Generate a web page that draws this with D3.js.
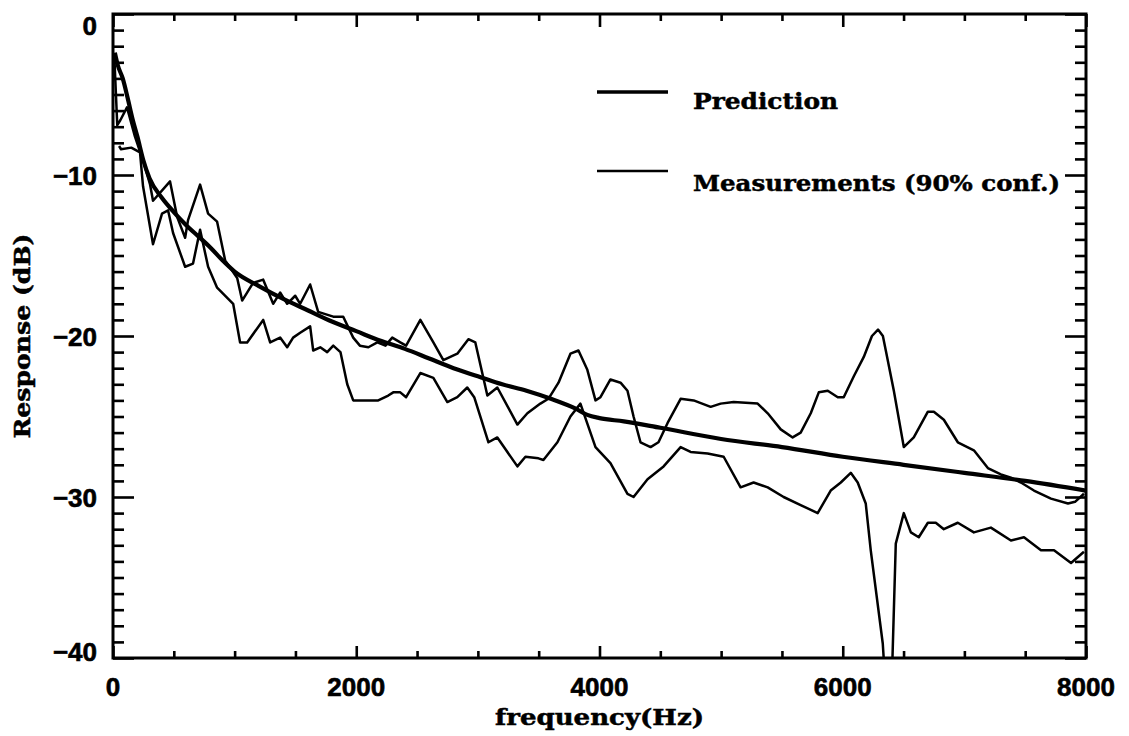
<!DOCTYPE html>
<html><head><meta charset="utf-8">
<script src="https://cdn.jsdelivr.net/npm/d3@7"></script>
<style>body{margin:0;background:#fff}</style>
</head><body><svg id="c" width="1129" height="736"></svg>
<script>
// ---------------- DATA ----------------
const predFreq = [15, 40, 80, 120, 160, 200, 250, 300, 400, 500, 600, 700, 800, 900, 1000, 1200, 1400, 1600, 1800, 2000, 2200, 2400, 2600, 2800, 3000, 3200, 3400, 3600, 3800, 3900, 4000, 4200, 4500, 5000, 5500, 6000, 6500, 7000, 7500, 8000];
const predResp = [-2.4, -3.2, -4.0, -5.2, -6.5, -7.6, -9.1, -10.2, -11.4, -12.3, -13.1, -13.8, -14.5, -15.3, -16.0, -16.9, -17.7, -18.4, -19.1, -19.7, -20.3, -20.8, -21.4, -22.0, -22.5, -23.0, -23.4, -23.9, -24.5, -24.9, -25.1, -25.3, -25.7, -26.4, -26.9, -27.5, -28.0, -28.5, -29.0, -29.6];

const upperFreq = [10, 35, 60, 115, 180, 247, 305, 329, 469, 527, 593, 617, 716, 782, 856, 922, 1021, 1062, 1152, 1235, 1317, 1374, 1432, 1498, 1539, 1621, 1687, 1811, 1893, 1975, 2030, 2100, 2173, 2240, 2296, 2362, 2410, 2527, 2634, 2716, 2831, 2922, 2979, 3078, 3160, 3325, 3407, 3514, 3580, 3663, 3761, 3827, 3900, 3967, 4008, 4090, 4173, 4230, 4280, 4337, 4420, 4485, 4560, 4667, 4774, 4914, 4996, 5103, 5300, 5383, 5490, 5588, 5654, 5737, 5803, 5877, 5959, 6008, 6091, 6173, 6240, 6290, 6330, 6354, 6420, 6502, 6584, 6700, 6749, 6831, 6946, 7078, 7193, 7300, 7383, 7465, 7572, 7712, 7852, 7910, 7983];
const upperResp = [-2.5, -6.9, -6.6, -5.8, -7.6, -9.1, -10.6, -11.6, -10.4, -12.6, -13.9, -12.8, -10.6, -12.4, -12.9, -15.3, -16.4, -17.8, -16.7, -16.5, -18.0, -17.3, -18.0, -17.5, -18.0, -16.8, -18.5, -18.8, -18.8, -20.1, -20.6, -20.7, -20.4, -20.6, -20.1, -20.4, -20.6, -19.0, -20.4, -21.5, -21.1, -20.2, -20.4, -23.7, -23.2, -25.5, -24.8, -24.2, -23.9, -22.9, -21.1, -20.9, -22.1, -24.0, -23.8, -22.7, -22.9, -23.4, -25.0, -26.6, -26.9, -26.6, -25.4, -23.9, -24.0, -24.4, -24.2, -24.1, -24.2, -24.8, -25.8, -26.3, -26.0, -24.8, -23.5, -23.4, -23.8, -23.8, -22.5, -21.3, -20.0, -19.6, -20.0, -20.9, -23.4, -26.9, -26.3, -24.7, -24.7, -25.2, -26.6, -27.1, -28.2, -28.6, -28.8, -29.1, -29.6, -30.1, -30.4, -30.3, -29.8];

const lowerFreq = [50, 66, 150, 222, 247, 329, 403, 453, 494, 593, 658, 716, 782, 856, 988, 1045, 1103, 1235, 1292, 1374, 1432, 1481, 1539, 1621, 1646, 1704, 1761, 1811, 1870, 1926, 1975, 2074, 2181, 2263, 2304, 2362, 2410, 2527, 2634, 2749, 2831, 2913, 2970, 3087, 3160, 3325, 3391, 3498, 3539, 3654, 3761, 3843, 3967, 4090, 4230, 4280, 4395, 4527, 4667, 4749, 4889, 5021, 5160, 5267, 5383, 5514, 5654, 5794, 5901, 5984, 6066, 6123, 6189, 6230, 6329, 6345, 6405, 6436, 6502, 6560, 6625, 6700, 6765, 6831, 6946, 7078, 7218, 7383, 7490, 7630, 7737, 7877, 7983];
const lowerResp = [-8.2, -8.4, -8.3, -8.6, -10.7, -14.3, -12.4, -12.2, -13.6, -15.7, -15.5, -13.4, -15.7, -17.0, -18.0, -20.4, -20.4, -19.0, -20.4, -20.1, -20.7, -20.1, -19.8, -19.4, -20.9, -20.7, -21.0, -20.6, -21.0, -23.0, -24.0, -24.0, -24.0, -23.7, -23.5, -23.5, -23.8, -22.3, -22.6, -24.1, -23.8, -23.2, -23.8, -26.6, -26.3, -28.1, -27.5, -27.6, -27.7, -26.6, -25.0, -24.2, -26.9, -27.9, -29.8, -30.0, -28.9, -28.1, -26.9, -27.2, -27.3, -27.5, -29.4, -29.1, -29.4, -30.0, -30.5, -31.0, -29.6, -29.1, -28.5, -29.1, -30.4, -33.3, -39.1, -41.0, -41.0, -32.9, -31.0, -32.2, -32.5, -31.6, -31.6, -32.0, -31.6, -32.2, -31.9, -32.7, -32.5, -33.3, -33.3, -34.1, -33.4];

const xTickLabels = [0, 2000, 4000, 6000, 8000];
const yTickLabels = [0, -10, -20, -30, -40];
const legendLabels = ["Prediction", "Measurements (90% conf.)"];
const xTitle = "frequency(Hz)";
const yTitle = "Response (dB)";

// ---------------- LAYOUT ----------------
const L = 113, R = 1086, T = 14, B = 658;
const svg = d3.select("#c");
const x = d3.scaleLinear().domain([0, 8000]).range([L, R]);
const y = d3.scaleLinear().domain([-40, 0]).range([B, T]);
const zip = (a, b) => a.map((v, i) => [v, b[i]]);

svg.append("defs").append("clipPath").attr("id", "clip")
  .append("rect").attr("x", L).attr("y", T).attr("width", R - L).attr("height", B - T);

const line = d3.line().x(d => x(d[0])).y(d => y(d[1]));
const g = svg.append("g").attr("clip-path", "url(#clip)");
g.append("path").datum(zip(upperFreq, upperResp)).attr("d", line)
  .attr("fill", "none").attr("stroke", "#000").attr("stroke-width", 2.5).attr("stroke-linejoin", "round");
g.append("path").datum(zip(lowerFreq, lowerResp)).attr("d", line)
  .attr("fill", "none").attr("stroke", "#000").attr("stroke-width", 2.5).attr("stroke-linejoin", "round");
g.append("path").datum(zip(predFreq, predResp)).attr("d", d3.line().curve(d3.curveMonotoneX).x(d => x(d[0])).y(d => y(d[1])))
  .attr("fill", "none").attr("stroke", "#000").attr("stroke-width", 4.2).attr("stroke-linejoin", "round");

// ---------------- AXES (ticks inward) ----------------
const minorX = d3.range(0, 8001, 500);
const minorY = d3.range(-40, 1, 1);
function styleAxis(sel) {
  sel.select(".domain").remove();
  sel.selectAll(".tick line").attr("stroke", "#000").attr("stroke-width", 2.6);
}
svg.append("g").attr("transform", `translate(0,${B})`)
  .call(d3.axisBottom(x).tickValues(minorX).tickFormat(""))
  .call(styleAxis)
  .selectAll(".tick line").attr("y2", d => d % 2000 === 0 ? -12 : -7);
svg.append("g").attr("transform", `translate(0,${T})`)
  .call(d3.axisTop(x).tickValues(minorX).tickFormat(""))
  .call(styleAxis)
  .selectAll(".tick line").attr("y2", d => d % 2000 === 0 ? 13 : 7);
svg.append("g").attr("transform", `translate(${L},0)`)
  .call(d3.axisLeft(y).tickValues(minorY).tickFormat(""))
  .call(styleAxis)
  .selectAll(".tick line").attr("x2", d => d % 10 === 0 ? 21 : 11);
svg.append("g").attr("transform", `translate(${R},0)`)
  .call(d3.axisRight(y).tickValues(minorY).tickFormat(""))
  .call(styleAxis)
  .selectAll(".tick line").attr("x2", d => d % 10 === 0 ? -21 : -11);

svg.append("rect").attr("x", L).attr("y", T).attr("width", R - L).attr("height", B - T)
  .attr("fill", "none").attr("stroke", "#000").attr("stroke-width", 3);

// tick labels
const fmt = d3.format("d");
svg.append("g").selectAll("text").data(xTickLabels).join("text")
  .attr("x", d => x(d)).attr("y", 696)
  .attr("text-anchor", "middle")
  .attr("font-family", "Liberation Sans, Arial, sans-serif").attr("font-weight", "bold").attr("font-size", 26)
  .attr("stroke", "#000").attr("stroke-width", 0.6)
  .text(d => fmt(d));
svg.append("g").selectAll("text").data(yTickLabels).join("text")
  .attr("x", 97).attr("y", d => y(d) + (d === 0 ? 21 : d === -40 ? 3 : 10))
  .attr("text-anchor", "end")
  .attr("font-family", "Liberation Sans, Arial, sans-serif").attr("font-weight", "bold").attr("font-size", 26)
  .attr("stroke", "#000").attr("stroke-width", 0.6)
  .text(d => fmt(d));

// axis titles
svg.append("text").attr("x", (L + R) / 2).attr("y", 725).attr("text-anchor", "middle")
  .attr("font-family", "DejaVu Serif, serif").attr("font-weight", "bold").attr("font-size", 22)
  .attr("stroke", "#000").attr("stroke-width", 0.5)
  .attr("textLength", 209).attr("lengthAdjust", "spacingAndGlyphs")
  .text(xTitle);
svg.append("text").attr("transform", `translate(30,${(T + B) / 2}) rotate(-90)`).attr("text-anchor", "middle")
  .attr("font-family", "DejaVu Serif, serif").attr("font-weight", "bold").attr("font-size", 22)
  .attr("stroke", "#000").attr("stroke-width", 0.5)
  .attr("textLength", 205).attr("lengthAdjust", "spacingAndGlyphs")
  .text(yTitle);

// legend
const legY = [92, 171], legW = [3.5, 2.6], legLen = [145, 367], legBase = [109, 191];
legendLabels.forEach((lab, i) => {
  svg.append("line").attr("x1", 597).attr("x2", 668).attr("y1", legY[i]).attr("y2", legY[i])
    .attr("stroke", "#000").attr("stroke-width", legW[i]);
  svg.append("text").attr("x", 693).attr("y", legBase[i])
    .attr("font-family", "DejaVu Serif, serif").attr("font-weight", "bold").attr("font-size", 23)
    .attr("stroke", "#000").attr("stroke-width", 0.5)
    .attr("textLength", legLen[i]).attr("lengthAdjust", "spacingAndGlyphs")
    .text(lab);
});
</script>
</body></html>
